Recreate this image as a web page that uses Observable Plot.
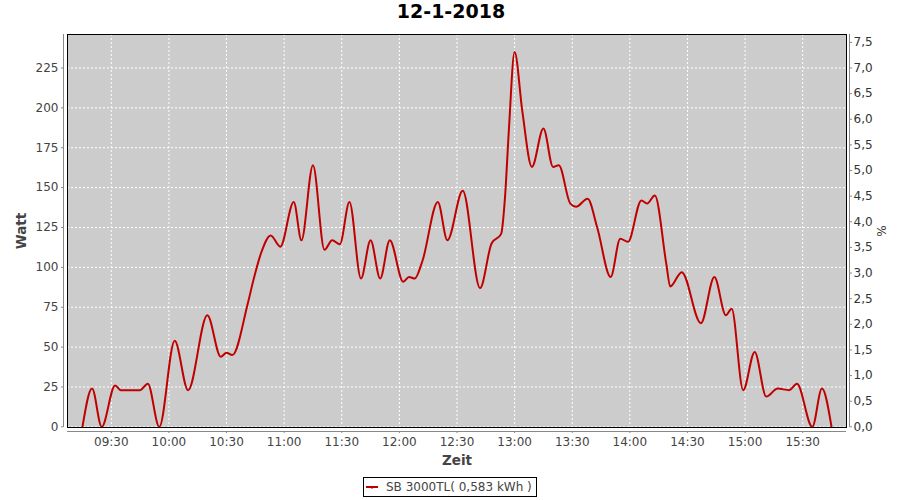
<!DOCTYPE html>
<html>
<head>
<meta charset="utf-8">
<script src="https://cdn.jsdelivr.net/npm/d3@7"></script>
<script src="https://cdn.jsdelivr.net/npm/@observablehq/plot@0.6"></script>
<style>
  html, body { margin: 0; padding: 0; background: #fff; }
  body { width: 900px; height: 500px; position: relative; overflow: hidden; font-family: "DejaVu Sans", sans-serif; }
  #title { position: absolute; left: 1px; top: 0; width: 900px; text-align: center; font: bold 19px "DejaVu Sans", sans-serif; line-height: 23px; color: #000; }
  #chart { position: absolute; left: 0; top: 28px; }
  #legend { position: absolute; left: 363px; top: 477px; width: 174px; height: 20px; box-sizing: border-box; border: 1px solid #000; background: #fff; font: 12px "DejaVu Sans", sans-serif; color: #444; }
  #legend svg { position: absolute; left: 1px; top: 4px; }
  #legend span { position: absolute; left: 22px; top: 1px; line-height: 16px; white-space: nowrap; }
</style>
</head>
<body>
<div id="title">12-1-2018</div>
<div id="chart"></div>
<div id="legend"><svg width="14" height="10"><line x1="1" y1="5" x2="13" y2="5" stroke="#c00000" stroke-width="2"/><line x1="7" y1="5" x2="7" y2="7" stroke="#c00000" stroke-width="1"/></svg><span id="legendText"></span></div>
<script>
const chartTitle = "12-1-2018";
const seriesName = "SB 3000TL( 0,583 kWh )";

const times = [
  "09:15","09:20","09:25","09:32","09:35","09:45","09:49","09:55",
  "10:03","10:10","10:20","10:27","10:30","10:33","10:41","10:44","10:48","10:53","10:58",
  "11:05","11:09","11:15","11:21","11:25","11:29","11:34","11:40","11:45","11:50","11:55",
  "12:02","12:05","12:08","12:12","12:20","12:25","12:33","12:42","12:48","12:53","12:55","12:57",
  "13:00","13:04","13:09","13:15","13:20","13:23","13:29","13:32","13:38","13:43","13:50","13:55","13:59",
  "14:06","14:09","14:13","14:19","14:21","14:27","14:37","14:44","14:50","14:53","14:59",
  "15:05","15:11","15:17","15:23","15:27","15:35","15:40","15:45"
];
const watts = [
  0, 24, 0, 26, 23, 23, 27, 0,
  54, 23, 70, 44, 46.5, 45, 77, 92, 109, 120, 113,
  141, 117, 164, 111, 117, 114.5, 141, 93, 117, 93, 117,
  91, 94, 93, 104, 141, 117, 148, 87, 115, 121, 144, 186,
  235, 198, 163, 187, 163, 164, 140, 138, 143, 125, 94, 118, 116,
  142, 140, 145, 102, 88, 97, 65, 94, 70, 74, 23,
  47, 19, 24, 23, 27, 0, 24, 0
];

const xTickLabels = ["09:30","10:00","10:30","11:00","11:30","12:00","12:30","13:00","13:30","14:00","14:30","15:00","15:30"];
const wattTicks = [0, 25, 50, 75, 100, 125, 150, 175, 200, 225];
const pctTicks = [0, 0.5, 1, 1.5, 2, 2.5, 3, 3.5, 4, 4.5, 5, 5.5, 6, 6.5, 7, 7.5];
const wattPerPct = 225 / 7; // right axis: 7,0 % is level with 225 W

document.getElementById("title").textContent = chartTitle;
document.getElementById("legendText").textContent = seriesName;

const parseHM = d3.utcParse("%H:%M");
const parseHMS = d3.utcParse("%H:%M:%S");
const data = times.map((t, i) => ({time: parseHM(t), watt: watts[i]}));
const xTicks = xTickLabels.map(parseHM);
const xDomain = [parseHMS("09:07:12"), parseHMS("15:52:48")];
const yDomain = [-0.4, 246];
const fmtPct = w => d3.format(".1f")(w / wattPerPct).replace(".", ",");

const chart = Plot.plot({
  width: 900,
  height: 442,
  marginTop: 6,
  marginBottom: 43,
  marginLeft: 67,
  marginRight: 54,
  style: {fontFamily: "DejaVu Sans, sans-serif", fontSize: "12px", color: "#444", background: "transparent"},
  x: {type: "utc", domain: xDomain},
  y: {domain: yDomain},
  marks: [
    Plot.frame({fill: "#cccccc", stroke: null}),
    Plot.gridX(xTicks, {stroke: "#fff", strokeOpacity: 1, strokeDasharray: "2,2"}),
    Plot.gridY(wattTicks, {stroke: "#fff", strokeOpacity: 1, strokeDasharray: "2,2"}),
    Plot.line(data, {x: "time", y: "watt", stroke: "#c00000", strokeWidth: 2, curve: "monotone-x"}),
    Plot.frame({stroke: "#000", strokeWidth: 1}),
    // axis lines offset from the frame
    Plot.ruleY([yDomain[0]], {dy: 4, stroke: "#888"}),
    Plot.ruleX([xDomain[0]], {dx: -4, stroke: "#888"}),
    Plot.ruleX([xDomain[1]], {dx: 3, stroke: "#888"}),
    Plot.axisX(xTicks, {tickSize: 2, dy: 4, tickPadding: 4, tickFormat: d3.utcFormat("%H:%M"), stroke: "#888", fill: "#444", fontSize: 12, label: null}),
    Plot.axisY(wattTicks, {anchor: "left", tickSize: 2, dx: -4, tickPadding: 3, stroke: "#888", fill: "#444", fontSize: 12, label: null}),
    Plot.axisY(pctTicks.map(p => p * wattPerPct), {anchor: "right", tickSize: 2, dx: 3, tickPadding: 2, tickFormat: fmtPct, stroke: "#888", fill: "#333", fontSize: 12, label: null}),
    Plot.text(["Watt"], {text: d => d, frameAnchor: "left", dx: -46, rotate: -90, textAnchor: "middle", lineAnchor: "middle", fontSize: 13.5, fontWeight: "bold", fill: "#444"}),
    Plot.text(["Zeit"], {text: d => d, frameAnchor: "bottom", dy: 33, textAnchor: "middle", lineAnchor: "middle", fontSize: 13.5, fontWeight: "bold", fill: "#444"}),
    Plot.text(["%"], {text: d => d, frameAnchor: "right", dx: 36, rotate: -90, textAnchor: "middle", lineAnchor: "middle", fontSize: 12, fill: "#333"})
  ]
});
document.getElementById("chart").appendChild(chart);
</script>
</body>
</html>
